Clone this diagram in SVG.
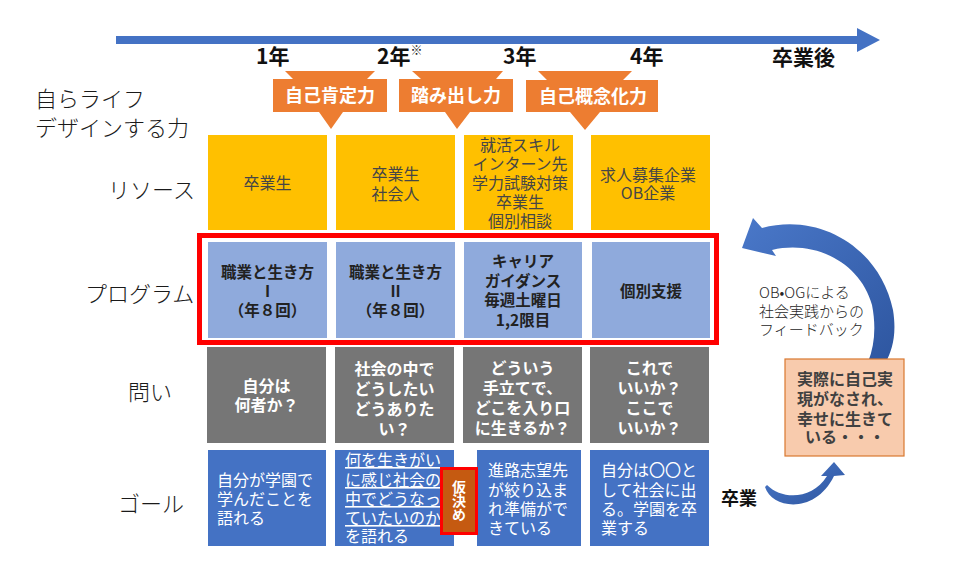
<svg xmlns="http://www.w3.org/2000/svg" width="960" height="586" viewBox="0 0 960 586">
<defs>
<linearGradient id="cg" x1="0" y1="0" x2="1" y2="1">
<stop offset="0" stop-color="#4A78C9"/>
<stop offset="1" stop-color="#2E56A0"/>
</linearGradient>
<style>
text{font-family:"Noto Sans CJK JP","Noto Sans",sans-serif;}
.lbl{font-size:22px;font-weight:300;fill:#1a1a1a;}
.yr{font-size:21px;font-weight:700;fill:#111;}
.co{fill:#ED7D31;}
.cot{font-size:18px;font-weight:700;fill:#fff;text-anchor:middle;}
.res{fill:#FFC000;}
.rest{font-size:16px;fill:#464646;text-anchor:middle;}
.prg{fill:#8FAADC;}
.prgt{font-size:15.5px;font-weight:700;fill:#222;text-anchor:middle;}
.q{fill:#767676;}
.qt{font-size:16px;font-weight:700;fill:#fff;text-anchor:middle;}
.g{fill:#4472C4;}
.gt{font-size:16px;fill:#fff;}
.u{text-decoration:underline;}
</style>
</defs>

<g id="connectors">
<path d="M116,36 L857,36 L857,28 L880,40 L857,52 L857,44 L116,44 Z" fill="#4472C4"/>
<path d="M742,248 L753,218 L762,228 C820,212 880,248 893,310 C897,335 892,350 886,362 L868,362 C875,345 876,325 872,305 C860,262 815,240 772,250 L776,256 Z" fill="url(#cg)"/>
<path d="M765,487 C772,509 815,515 834,476 L845,475 L834,462 L821,476 L827,476 C812,500 782,500 767,485 Z" fill="url(#cg)"/>
</g>

<g id="row-labels">
<text class="lbl"><tspan x="35" y="107">自らライフ</tspan><tspan x="35" y="136">デザインする力</tspan></text>
<text class="lbl" x="108" y="198">リソース</text>
<text class="lbl" x="85" y="302">プログラム</text>
<text class="lbl" x="128" y="400">問い</text>
<text class="lbl" x="118" y="512">ゴール</text>
</g>

<g id="years">
<text class="yr" x="256" y="64">1年</text>
<text class="yr" x="377" y="64">2年<tspan font-size="12" font-weight="400" dy="-9">※</tspan></text>
<text class="yr" x="503" y="64">3年</text>
<text class="yr" x="630" y="64">4年</text>
<text class="yr" x="772" y="65">卒業後</text>
</g>

<g id="callout-1">
<path class="co" d="M285,71 L375,71 L367,79 L387,79 L387,112 L343,112 L331,129 L319,112 L273,112 L273,79 L293,79 Z"/>
<text class="cot" x="330" y="102">自己肯定力</text>
</g>
<g id="callout-2">
<path class="co" d="M412,71 L503,71 L496,79 L513,79 L513,112 L470,112 L457,129 L445,112 L399,112 L399,79 L421,79 Z"/>
<text class="cot" x="456" y="102">踏み出し力</text>
</g>
<g id="callout-3">
<path class="co" d="M538,71 L632,71 L623,80 L658,80 L658,112 L600,112 L585,130 L570,112 L526,112 L526,80 L547,80 Z"/>
<text class="cot" x="593" y="103">自己概念化力</text>
</g>

<g id="resource-1">
<rect class="res" x="208" y="135" width="119" height="95"/>
<text class="rest" x="267.5" y="189">卒業生</text>
</g>
<g id="resource-2">
<rect class="res" x="336" y="135" width="119" height="95"/>
<text class="rest"><tspan x="395.5" y="180">卒業生</tspan><tspan x="395.5" y="200">社会人</tspan></text>
</g>
<g id="resource-3">
<rect class="res" x="464" y="135" width="109" height="95"/>
<text class="rest" font-size="14.5"><tspan x="520" y="151">就活スキル</tspan><tspan x="520" y="170">インターン先</tspan><tspan x="520" y="189">学力試験対策</tspan><tspan x="520" y="208">卒業生</tspan><tspan x="520" y="227">個別相談</tspan></text>
</g>
<g id="resource-4">
<rect class="res" x="591" y="135" width="119" height="95"/>
<text class="rest"><tspan x="648" y="181">求人募集企業</tspan><tspan x="648" y="199">OB企業</tspan></text>
</g>

<g id="program-frame">
<rect x="199.5" y="235.5" width="517" height="107" fill="none" stroke="#FF0000" stroke-width="5"/>
</g>
<g id="program-1">
<rect class="prg" x="208" y="242" width="119" height="96"/>
<text class="prgt"><tspan x="267.5" y="278">職業と生き方</tspan><tspan x="267.5" y="297">I</tspan><tspan x="267.5" y="316">（年８回）</tspan></text>
</g>
<g id="program-2">
<rect class="prg" x="336" y="242" width="119" height="96"/>
<text class="prgt"><tspan x="395.5" y="278">職業と生き方</tspan><tspan x="395.5" y="297">II</tspan><tspan x="395.5" y="316">（年８回）</tspan></text>
</g>
<g id="program-3">
<rect class="prg" x="464" y="242" width="118" height="96"/>
<text class="prgt"><tspan x="523" y="267">キャリア</tspan><tspan x="523" y="287">ガイダンス</tspan><tspan x="523" y="306">毎週土曜日</tspan><tspan x="523" y="326">1,2限目</tspan></text>
</g>
<g id="program-4">
<rect class="prg" x="592" y="242" width="118" height="96"/>
<text class="prgt" x="651" y="297">個別支援</text>
</g>

<g id="question-1">
<rect class="q" x="207" y="347" width="119" height="96"/>
<text class="qt"><tspan x="266.5" y="392">自分は</tspan><tspan x="266.5" y="411">何者か？</tspan></text>
</g>
<g id="question-2">
<rect class="q" x="335" y="347" width="119" height="96"/>
<text class="qt"><tspan x="394.5" y="375">社会の中で</tspan><tspan x="394.5" y="395">どうしたい</tspan><tspan x="394.5" y="415">どうありた</tspan><tspan x="394.5" y="435">い？</tspan></text>
</g>
<g id="question-3">
<rect class="q" x="463" y="347" width="119" height="96"/>
<text class="qt"><tspan x="522.5" y="374">どういう</tspan><tspan x="522.5" y="394">手立てで、</tspan><tspan x="522.5" y="414">どこを入り口</tspan><tspan x="522.5" y="434">に生きるか？</tspan></text>
</g>
<g id="question-4">
<rect class="q" x="590" y="347" width="119" height="96"/>
<text class="qt"><tspan x="649.5" y="374">これで</tspan><tspan x="649.5" y="394">いいか？</tspan><tspan x="649.5" y="414">ここで</tspan><tspan x="649.5" y="434">いいか？</tspan></text>
</g>

<g id="goal-1">
<rect class="g" x="208" y="450" width="118" height="96"/>
<text class="gt"><tspan x="217" y="486">自分が学園で</tspan><tspan x="217" y="505">学んだことを</tspan><tspan x="217" y="524">語れる</tspan></text>
</g>
<g id="goal-2">
<rect class="g" x="335" y="450" width="119" height="96"/>
<text class="gt"><tspan class="u" x="345" y="466">何を生きがい</tspan><tspan class="u" x="345" y="486">に感じ社会の</tspan><tspan class="u" x="345" y="505">中でどうなっ</tspan><tspan class="u" x="345" y="524">ていたいのか</tspan><tspan x="345" y="542">を語れる</tspan></text>
</g>
<g id="goal-3">
<rect class="g" x="477" y="450" width="104" height="96"/>
<text class="gt"><tspan x="488" y="476">進路志望先</tspan><tspan x="488" y="496">が絞り込ま</tspan><tspan x="488" y="515">れ準備がで</tspan><tspan x="488" y="534">きている</tspan></text>
</g>
<g id="goal-4">
<rect class="g" x="590" y="450" width="119" height="96"/>
<text class="gt"><tspan x="601" y="476">自分は〇〇と</tspan><tspan x="601" y="496">して社会に出</tspan><tspan x="601" y="515">る。学園を卒</tspan><tspan x="601" y="534">業する</tspan></text>
</g>
<g id="tentative">
<rect x="441.5" y="468.5" width="35" height="65" fill="#C55A11" stroke="#FF0000" stroke-width="3"/>
<text x="459" y="480" font-size="14" font-weight="700" fill="#fff" writing-mode="vertical-rl">仮決め</text>
</g>

<g id="graduation">
<text x="721" y="505" font-size="18" font-weight="700" fill="#111">卒業</text>
</g>

<g id="feedback-label">
<text font-size="15" font-weight="300" fill="#262626"><tspan x="759" y="298">OB•OGによる</tspan><tspan x="759" y="317">社会実践からの</tspan><tspan x="759" y="335">フィードバック</tspan></text>
</g>

<g id="self-realization">
<rect x="785" y="359" width="119" height="97" fill="#F8CBAD" stroke="#D9782F" stroke-width="1.2"/>
<text font-size="16" font-weight="700" fill="#404040" text-anchor="middle"><tspan x="845" y="385">実際に自己実</tspan><tspan x="845" y="405">現がなされ、</tspan><tspan x="845" y="425">幸せに生きて</tspan><tspan x="845" y="443">いる・・・</tspan></text>
</g>
</svg>
